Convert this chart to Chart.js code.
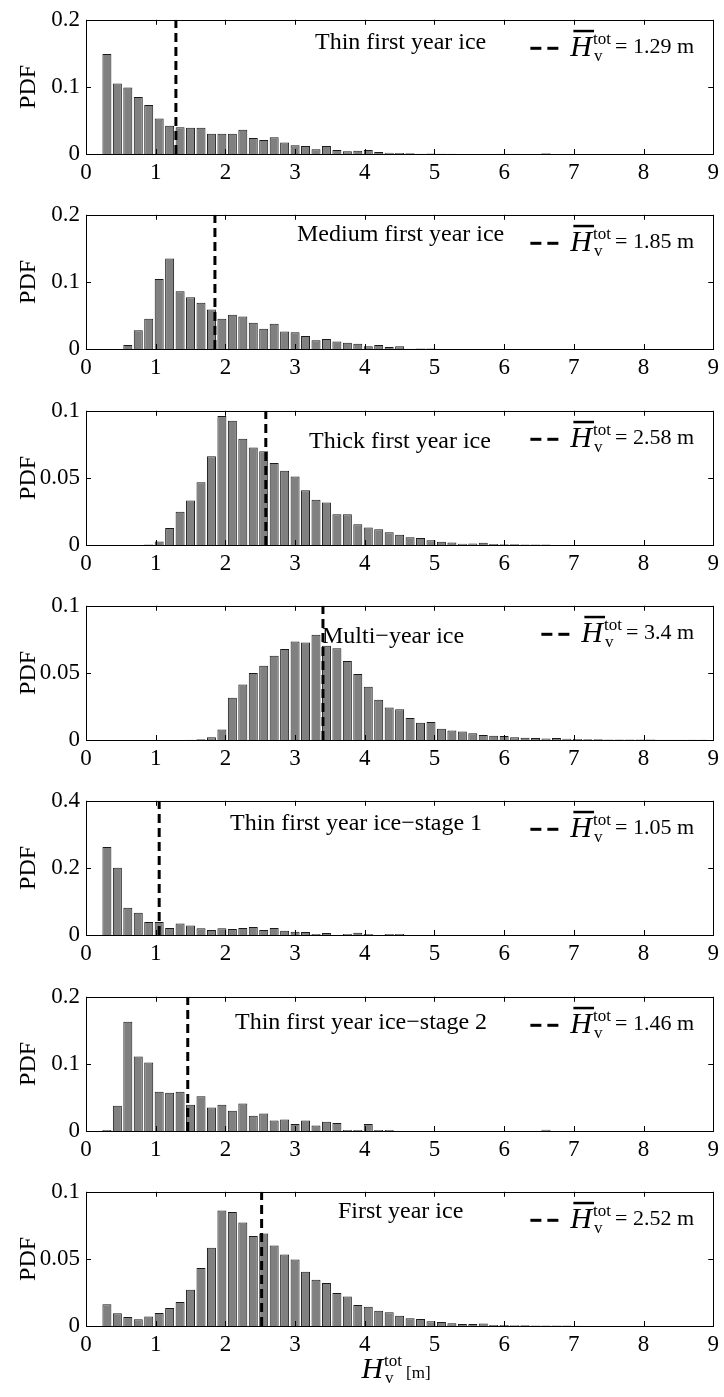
<!DOCTYPE html>
<html>
<head>
<meta charset="utf-8">
<title>Ice thickness PDFs</title>
<script src="https://cdn.jsdelivr.net/npm/chart.js@4.4.0/dist/chart.umd.min.js"></script>
<style>
  body { margin: 0; background: #fff; }
  #wrap { position: relative; width: 724px; height: 1397px; overflow: hidden; }
  #wrap canvas { position: absolute; left: 0; }
</style>
</head>
<body>
<div id="wrap"></div>
<script>
// bin centres of the histograms [m]
const binCenters = [0.3, 0.45, 0.6, 0.75, 0.9, 1.05, 1.2, 1.35, 1.5, 1.65, 1.8, 1.95, 2.1, 2.25, 2.4, 2.55, 2.7, 2.85,
  3.0, 3.15, 3.3, 3.45, 3.6, 3.75, 3.9, 4.05, 4.2, 4.35, 4.5, 4.65, 4.8, 4.95, 5.1, 5.25, 5.4, 5.55, 5.7, 5.85,
  6.0, 6.15, 6.3, 6.45, 6.6, 6.75, 6.9, 7.05, 7.2, 7.35, 7.5, 7.65, 7.8, 7.95, 8.1, 8.25, 8.4, 8.55, 8.7, 8.85];

const thinFyi = [0.149, 0.105, 0.099, 0.085, 0.073, 0.053, 0.042, 0.040, 0.039, 0.039, 0.030, 0.030, 0.030, 0.036,
  0.024, 0.021, 0.025, 0.017, 0.013, 0.012, 0.007, 0.012, 0.006, 0.004, 0.005, 0.006, 0.003, 0.002, 0.0014, 0.001,
  0.0005, 0.0008, 0.0003, 0.0005, 0, 0, 0, 0, 0.0004, 0.0004, 0, 0, 0.0012, 0, 0, 0, 0, 0, 0, 0, 0, 0, 0, 0, 0, 0, 0, 0];
const mediumFyi = [0, 0, 0.006, 0.028, 0.045, 0.1045, 0.135, 0.086, 0.077, 0.069, 0.059, 0.045, 0.051, 0.0485,
  0.039, 0.030, 0.0375, 0.026, 0.025, 0.0195, 0.013, 0.015, 0.011, 0.0095, 0.008, 0.004, 0.006, 0.003, 0.004, 0.0005,
  0.0008, 0.0008, 0, 0, 0, 0, 0, 0, 0, 0, 0, 0, 0, 0, 0, 0, 0, 0, 0, 0, 0, 0, 0, 0, 0, 0, 0, 0];
const thickFyi = [0, 0, 0, 0, 0.0003, 0.0026, 0.0126, 0.0248, 0.0332, 0.0468, 0.0661, 0.0962, 0.0926, 0.0792,
  0.0726, 0.0699, 0.0611, 0.0554, 0.0511, 0.0408, 0.0337, 0.0317, 0.0229, 0.0229, 0.0155, 0.0131, 0.0117, 0.0095,
  0.0076, 0.0057, 0.0053, 0.0036, 0.0024, 0.0019, 0.001, 0.0012, 0.0017, 0.0008, 0.0006, 0.0005, 0.0004, 0.0003,
  0.0003, 0, 0, 0, 0, 0, 0, 0, 0, 0, 0, 0, 0, 0, 0, 0];
const multiYear = [0, 0, 0, 0, 0, 0, 0, 0, 0.0002, 0.0005, 0.0021, 0.0078, 0.0314, 0.0413, 0.0499, 0.0553, 0.0627,
  0.0679, 0.0734, 0.0727, 0.0784, 0.0703, 0.0684, 0.0589, 0.0492, 0.0397, 0.0299, 0.0242, 0.0230, 0.0164, 0.0128,
  0.0135, 0.0083, 0.0071, 0.0064, 0.0050, 0.0038, 0.0031, 0.0029, 0.0021, 0.0017, 0.0014, 0.0012, 0.0014, 0.001,
  0.0007, 0.0005, 0.0005, 0.0004, 0.0004, 0.0003, 0.0003, 0.0003, 0.0002, 0.0002, 0.0002, 0.0001, 0.0001];
const thinStage1 = [0.262, 0.2005, 0.081, 0.0665, 0.039, 0.039, 0.021, 0.034, 0.0285, 0.020, 0.015, 0.020, 0.018,
  0.021, 0.024, 0.015, 0.021, 0.0124, 0.0095, 0.0086, 0.0029, 0.006, 0, 0.003, 0.0067, 0.003, 0, 0.003, 0.003, 0,
  0, 0, 0, 0, 0, 0, 0, 0, 0, 0, 0, 0, 0, 0, 0, 0, 0, 0, 0, 0, 0, 0, 0, 0, 0, 0, 0, 0];
const thinStage2 = [0.0014, 0.0375, 0.163, 0.111, 0.102, 0.0584, 0.057, 0.0584, 0.039, 0.0518, 0.0352, 0.039,
  0.030, 0.041, 0.0228, 0.026, 0.0157, 0.0171, 0.0105, 0.0157, 0.0081, 0.0138, 0.0119, 0.0014, 0.0014, 0.0105,
  0.0014, 0.0014, 0, 0, 0, 0, 0, 0, 0, 0, 0, 0, 0, 0, 0, 0, 0.002, 0, 0, 0, 0, 0, 0, 0, 0, 0, 0, 0, 0, 0, 0, 0];
const firstYear = [0.0162, 0.0095, 0.0067, 0.005, 0.0071, 0.0097, 0.0135, 0.0178, 0.0271, 0.0432, 0.0584, 0.086,
  0.085, 0.0772, 0.067, 0.0689, 0.0599, 0.0532, 0.0496, 0.0404, 0.0344, 0.0321, 0.0245, 0.0219, 0.0157, 0.0143,
  0.0114, 0.0102, 0.0076, 0.0057, 0.0052, 0.0036, 0.0029, 0.0021, 0.0014, 0.0014, 0.0019, 0.0007, 0.0007, 0.0006,
  0.0005, 0.0004, 0.0004, 0.0003, 0.0003, 0.0002, 0, 0, 0, 0, 0, 0, 0, 0, 0, 0, 0, 0];

const seriesList = [thinFyi, mediumFyi, thickFyi, multiYear, thinStage1, thinStage2, firstYear];
const iceNames = ["Thin first year ice", "Medium first year ice", "Thick first year ice", "Multi\u2212year ice",
  "Thin first year ice\u2212stage 1", "Thin first year ice\u2212stage 2", "First year ice"];
const meanThickness = [1.29, 1.85, 2.58, 3.4, 1.05, 1.46, 2.52];
const yMax = [0.2, 0.2, 0.1, 0.1, 0.4, 0.2, 0.1];

const xTicks = [0, 1, 2, 3, 4, 5, 6, 7, 8, 9];
const xTickLabels = ["0", "1", "2", "3", "4", "5", "6", "7", "8", "9"];
const yTicks = [[0, 0.1, 0.2], [0, 0.1, 0.2], [0, 0.05, 0.1], [0, 0.05, 0.1], [0, 0.2, 0.4], [0, 0.1, 0.2], [0, 0.05, 0.1]];
const yTickLabels = [["0", "0.1", "0.2"], ["0", "0.1", "0.2"], ["0", "0.05", "0.1"], ["0", "0.05", "0.1"],
  ["0", "0.2", "0.4"], ["0", "0.1", "0.2"], ["0", "0.05", "0.1"]];

// where the name text sits in each panel (left px, drop below the top frame)
const nameSpot = [[315, 29], [297, 26], [309, 37], [322, 37], [230, 29], [235, 32], [338, 26]];

const SERIF = '"Liberation Serif", "Times New Roman", serif';
const PANEL_STEP = 195.3;

function drawSymbol(ctx, xRight, base, big) {
  // H-bar with sub "v" and sup "tot", drawn right to left; returns left edge of H
  ctx.textAlign = "left";
  ctx.font = "17px " + SERIF;
  const totW = ctx.measureText("tot").width;
  ctx.fillText("tot", xRight - totW, base - 12);
  ctx.fillText("v", xRight - totW + 1, base + 5);
  ctx.font = "italic " + big + "px " + SERIF;
  const hW = ctx.measureText("H").width;
  const hx = xRight - totW - hW - 1;
  ctx.fillText("H", hx, base);
  return { hx: hx, hW: hW };
}

const panelPlugin = {
  id: "panelDecor",
  afterDraw(chart) {
    const idx = chart.options.plugins.panelDecor.idx;
    const ctx = chart.ctx;
    const a = chart.chartArea;
    const xs = chart.scales.x, ys = chart.scales.y;
    ctx.save();
    // frame with inward ticks
    ctx.strokeStyle = "#000";
    ctx.lineWidth = 1;
    ctx.strokeRect(Math.round(a.left) + 0.5, Math.round(a.top) + 0.5,
      Math.round(a.right - a.left), Math.round(a.bottom - a.top));
    ctx.beginPath();
    xs.ticks.forEach(t => {
      const px = Math.round(xs.getPixelForValue(t.value)) + 0.5;
      ctx.moveTo(px, a.bottom); ctx.lineTo(px, a.bottom - 5);
      ctx.moveTo(px, a.top); ctx.lineTo(px, a.top + 5);
    });
    ys.ticks.forEach(t => {
      const py = Math.round(ys.getPixelForValue(t.value)) + 0.5;
      ctx.moveTo(a.left, py); ctx.lineTo(a.left + 5, py);
      ctx.moveTo(a.right, py); ctx.lineTo(a.right - 5, py);
    });
    ctx.stroke();

    ctx.fillStyle = "#000";
    ctx.textBaseline = "alphabetic";
    // panel name
    ctx.font = "24px " + SERIF;
    ctx.textAlign = "left";
    ctx.fillText(iceNames[idx], nameSpot[idx][0], a.top + nameSpot[idx][1]);

    // legend, right aligned
    const base = a.top + 36;
    ctx.font = "22px " + SERIF;
    ctx.textAlign = "right";
    const valTxt = "= " + meanThickness[idx] + " m";
    ctx.fillText(valTxt, 694, base - 3);
    const valW = ctx.measureText(valTxt).width;
    const s = drawSymbol(ctx, 694 - valW - 4, base, 30);
    ctx.fillRect(s.hx + 3, a.top + 10, s.hW - 1, 2.5);
    ctx.fillRect(s.hx - 40, a.top + 27, 11, 3);
    ctx.fillRect(s.hx - 23, a.top + 27, 11, 3);

    // x axis title on the last panel
    if (idx === seriesList.length - 1) {
      const b = a.bottom + 52;
      ctx.font = "17px " + SERIF;
      ctx.textAlign = "left";
      ctx.fillText("[m]", 406, b);
      drawSymbol(ctx, 402, b, 30);
    }
    ctx.restore();
  }
};

const wrap = document.getElementById("wrap");

seriesList.forEach((values, i) => {
  const last = i === seriesList.length - 1;
  const h = last ? 225 : 195;
  const cv = document.createElement("canvas");
  cv.width = 724;
  cv.height = h;
  cv.style.width = "724px";
  cv.style.height = h + "px";
  cv.style.top = Math.round(i * PANEL_STEP) + "px";
  wrap.appendChild(cv);

  const tickFont = { family: SERIF, size: 23 };

  new Chart(cv.getContext("2d"), {
    type: "bar",
    data: {
      datasets: [
        {
          type: "line",
          data: [{ x: meanThickness[i], y: 0 }, { x: meanThickness[i], y: yMax[i] }],
          borderColor: "#000",
          borderWidth: 3,
          borderDash: [9, 5],
          pointRadius: 0,
          order: 0
        },
        {
          type: "bar",
          data: binCenters.map((c, k) => ({ x: c, y: values[k] })),
          backgroundColor: "#808080",
          borderColor: "#1a1a1a",
          borderWidth: 1,
          barPercentage: 0.86,
          categoryPercentage: 1,
          order: 1
        }
      ]
    },
    options: {
      responsive: false,
      animation: false,
      devicePixelRatio: 1,
      layout: { padding: { top: 13, right: 8, left: 0, bottom: 0 } },
      plugins: {
        legend: { display: false },
        tooltip: { enabled: false },
        panelDecor: { idx: i }
      },
      scales: {
        x: {
          type: "linear",
          offset: false,
          min: 0,
          max: 9,
          afterBuildTicks: sc => { sc.ticks = xTicks.map(v => ({ value: v })); },
          afterFit: sc => { sc.height = h - 154; },
          ticks: {
            font: tickFont,
            color: "#000",
            padding: 5,
            maxRotation: 0,
            autoSkip: false,
            callback: v => xTickLabels[xTicks.indexOf(v)]
          },
          grid: { display: false, drawTicks: false, offset: false },
          border: { display: false }
        },
        y: {
          min: 0,
          max: yMax[i],
          afterBuildTicks: sc => { sc.ticks = yTicks[i].map(v => ({ value: v })); },
          afterFit: sc => { sc.width = 86; },
          ticks: {
            font: tickFont,
            color: "#000",
            padding: 6,
            callback: v => yTickLabels[i][yTicks[i].indexOf(v)]
          },
          title: {
            display: true,
            text: "PDF",
            color: "#000",
            font: { family: SERIF, size: 24 },
            padding: { top: 14, bottom: 0 }
          },
          grid: { display: false, drawTicks: false },
          border: { display: false }
        }
      }
    },
    plugins: [panelPlugin]
  });
});
</script>
</body>
</html>
